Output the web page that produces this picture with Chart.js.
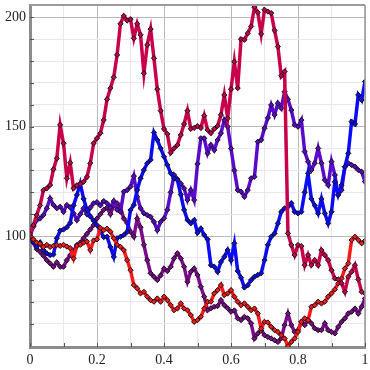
<!DOCTYPE html>
<html>
<head>
<meta charset="utf-8">
<script src="https://cdn.jsdelivr.net/npm/chart.js@4.4.1/dist/chart.umd.min.js"></script>
<style>
  body { margin: 0; background: #fff; }
  #c { display: block; }
</style>
</head>
<body>
<canvas id="c" width="370" height="370"></canvas>
<script>
// x positions (0 .. 1, step 0.01)
var xs = [0,0.01,0.02,0.03,0.04,0.05,0.06,0.07,0.08,0.09,
  0.1,0.11,0.12,0.13,0.14,0.15,0.16,0.17,0.18,0.19,
  0.2,0.21,0.22,0.23,0.24,0.25,0.26,0.27,0.28,0.29,
  0.3,0.31,0.32,0.33,0.34,0.35,0.36,0.37,0.38,0.39,
  0.4,0.41,0.42,0.43,0.44,0.45,0.46,0.47,0.48,0.49,
  0.5,0.51,0.52,0.53,0.54,0.55,0.56,0.57,0.58,0.59,
  0.6,0.61,0.62,0.63,0.64,0.65,0.66,0.67,0.68,0.69,
  0.7,0.71,0.72,0.73,0.74,0.75,0.76,0.77,0.78,0.79,
  0.8,0.81,0.82,0.83,0.84,0.85,0.86,0.87,0.88,0.89,
  0.9,0.91,0.92,0.93,0.94,0.95,0.96,0.97,0.98,0.99,1];

var crimson = [101,105,109.6,114,121,121.8,123.3,130.5,135.5,150.8,
  142.4,126.4,133.5,121.8,123.2,123.8,124.8,127,133.3,142.4,
  144.7,147,153,162.5,167.6,172.6,182.8,197,200.6,198.5,
  199.1,190.4,197,192,174.4,187.4,194.6,181.3,167.1,157.3,
  148.9,146.7,138.1,140.1,141.6,146.2,151.2,157.3,149,149.4,
  150.3,149.4,155,148.5,147,149,150.3,155.4,164.5,153.8,
  167.1,179.7,167.6,190,189.7,192.7,195.8,204.6,202.2,192.4,
  203.4,202.6,201.9,194,186.6,173.2,175.2,101.2,95.9,91.3,
  95.9,95.4,86.7,91.3,86.7,89,86.7,93.6,91.3,89,
  84.4,80.6,80.2,78.4,74.5,81.4,83.7,86.7,80.2,74.5,73.8];

var red = [100,98.5,97,96.5,95,96,95,95.5,95.9,95.5,
  96,95.2,94.5,89.8,95.5,96,97,97.5,93.6,98,
  98.5,103.8,102.7,103.4,102,99,96,95.1,93.6,89,
  84.4,77.6,76.1,73.8,74.5,72.3,70.7,70,71.5,70,
  72.3,70.7,68.4,66.1,66.9,69.2,66.9,66.1,63.9,60.8,
  61.6,63.1,66.9,70,70,73.8,75.3,77.6,73,73.8,
  75.3,72.3,70,68.4,69.2,67.7,66.1,66.9,64.6,57.8,
  60.8,60.5,58.5,57,56.2,54.7,53.2,49.7,51.6,53.2,
  56.2,60.8,62.4,61.6,67.7,68.4,70,69.2,70,72.3,
  73.8,75.6,78.4,80.6,85.2,87.5,98.2,99.7,98.2,96.7,97.9];

var blue = [100,97.4,95.1,97.1,93.6,92.1,91.3,91.6,99,102.5,
  103,104,106,114,118.8,124,117,112,109,107,
  105,102.3,99.5,99.7,95,90.5,99,99.7,100.5,101.9,
  111.9,114.2,121,126.4,130.2,133.3,134.8,147.3,143.9,140.1,
  136.3,132.5,128.7,126.4,125.6,119,112,107.3,105.8,107.3,
  101.5,103.5,100.5,98.5,86.7,86,83.7,88.2,90.5,93.6,
  89,96.7,84,81,76.5,77.5,79.9,81.4,82.2,83,
  89,96,99.7,101.2,105.8,111.1,112.7,113.4,115,111.1,
  110.4,111.1,120,128.7,117,114,110.4,117,110.4,105.8,
  111.1,124.8,118.8,123.3,131.7,137.8,152.3,151.2,164.5,162.2,170.6];

var indigo = [100,104.3,107.3,108,109.6,112.7,117.2,114.2,112.7,113.4,
  111.1,114.2,113.1,110.4,107.3,110,112.7,110,113,115,
  115.5,114,116,115,113,116,112,111.1,120.3,121,
  122.6,127.4,118,112.7,110.4,109.6,108.8,106.5,102.7,106.5,
  108.1,112,120,127.9,126,124,121.8,116.5,121,116.5,
  133,144.7,144.7,137.8,141.6,139.3,143.9,147,153,150,
  140,130,121,120.3,118,121,126.4,127.1,143.1,143.9,
  149.3,154,159.9,155.4,160.7,158.4,166,162.5,157.6,150.8,
  150,153,138.6,134,130.2,133.3,140.1,133.3,125.6,123.3,
  134,127.9,118.8,121,131.7,133.3,132.5,131.7,130.2,129.4,124.8];

var purple = [100,97,94,92.8,91,89,87.5,86,88,86,
  86,89,91.3,93,95.9,97,99,101,103,105,
  108,110,112,113,110,114,115,113,108,106,
  102,99.7,108,104,96,89,83,81.4,79.9,82,
  85.2,84,86,89.8,92.1,89.8,86,79.1,83.7,85.2,
  82.2,76.8,72.3,66.1,67,67.7,68,70.7,68.4,67,
  65.4,66,62.4,61.6,63.1,62.4,60.1,53.2,55.5,57,
  54.7,53.9,53.2,52.4,51.6,53.2,59.3,64.6,59.3,56.2,
  57,60.8,59.3,61.6,60.1,57.8,57,57,60.1,57,
  56.2,55.5,58.5,60.8,62.4,64.6,65.4,66.9,64.6,67.7,71.5];

var xTickLabels = ['0', '0.2', '0.4', '0.6', '0.8', '1'];
var yTickLabels = ['100', '150', '200'];

var makeSeries = function (values, colour) {
    return {
        data: xs.map(function (x, i) { return { x: x, y: values[i] }; }),
        borderColor: colour,
        backgroundColor: colour,
        borderWidth: 3.5,
        tension: 0,
        pointStyle: 'rectRot',
        pointRadius: 2.6,
        pointBorderWidth: 1,
        pointBorderColor: '#111',
        pointBackgroundColor: colour
    };
};

var noPad = function (s) {
    s.paddingTop = 0; s.paddingBottom = 0; s.paddingLeft = 0; s.paddingRight = 0;
};

// petits traits de graduation vers l'intérieur + cadre haut/droite
var framePlugin = {
    id: 'frame',
    afterDatasetsDraw: function (chart) {
        var ctx = chart.ctx, a = chart.chartArea;
        var sx = chart.scales.x, sy = chart.scales.y;
        ctx.save();
        ctx.strokeStyle = '#9a9a9a';
        ctx.lineWidth = 2;
        ctx.beginPath();
        ctx.moveTo(a.left, a.top); ctx.lineTo(a.right, a.top);
        ctx.stroke();
        ctx.lineWidth = 1.5;
        ctx.beginPath();
        ctx.moveTo(a.right, a.top); ctx.lineTo(a.right, a.bottom);
        ctx.stroke();
        ctx.strokeStyle = '#555';
        ctx.lineWidth = 1;
        sy.ticks.forEach(function (t) {
            var p = Math.round(sy.getPixelForValue(t.value)) + 0.5;
            if (p < a.top + 2 || p > a.bottom - 2) return;
            ctx.beginPath(); ctx.moveTo(a.left, p); ctx.lineTo(a.left + 4, p); ctx.stroke();
        });
        sx.ticks.forEach(function (t) {
            var p = Math.round(sx.getPixelForValue(t.value)) + 0.5;
            ctx.beginPath(); ctx.moveTo(p, a.bottom); ctx.lineTo(p, a.bottom - 4); ctx.stroke();
        });
        ctx.restore();
    }
};

Chart.defaults.font.family = '"Liberation Serif", "DejaVu Serif", serif';
Chart.defaults.font.size = 14;
Chart.defaults.color = '#222';

new Chart(document.getElementById('c'), {
    type: 'line',
    data: {
        datasets: [
            makeSeries(crimson, '#c8004b'),
            makeSeries(red, '#ff1a1a'),
            makeSeries(blue, '#0a0aff'),
            makeSeries(indigo, '#5a0acd'),
            makeSeries(purple, '#7d0a8c')
        ]
    },
    options: {
        responsive: false,
        animation: false,
        devicePixelRatio: 1,
        layout: { padding: { top: 5, right: 2, left: 0, bottom: 0 } },
        plugins: { legend: { display: false }, tooltip: { enabled: false } },
        scales: {
            x: {
                type: 'linear',
                min: 0,
                max: 1,
                afterFit: function (s) { s.height = 23; noPad(s); },
                border: { display: true, color: '#8c8c8c', width: 3 },
                grid: {
                    drawTicks: false,
                    color: function (c) {
                        var k = Math.round(c.tick.value * 10);
                        return k % 2 === 0 ? '#b9b9b9' : '#ece4ee';
                    }
                },
                ticks: {
                    stepSize: 0.1,
                    autoSkip: false,
                    includeBounds: false,
                    maxRotation: 0,
                    padding: 5,
                    callback: function (v) {
                        var k = Math.round(v * 10);
                        return k % 2 === 0 ? xTickLabels[k / 2] : '';
                    }
                }
            },
            y: {
                min: 49.3,
                max: 205.6,
                afterFit: function (s) { s.width = 30; noPad(s); },
                border: { display: true, color: '#8c8c8c', width: 3 },
                grid: {
                    drawTicks: false,
                    color: function (c) {
                        var v = Math.round(c.tick.value);
                        return v % 50 === 0 ? '#b9b9b9' : '#ece4ee';
                    }
                },
                ticks: {
                    stepSize: 10,
                    autoSkip: false,
                    includeBounds: false,
                    padding: 4,
                    callback: function (v) {
                        var k = Math.round(v);
                        if (k % 50 !== 0) return '';
                        return yTickLabels[k / 50 - 2];
                    }
                }
            }
        }
    },
    plugins: [framePlugin]
});
</script>
</body>
</html>
